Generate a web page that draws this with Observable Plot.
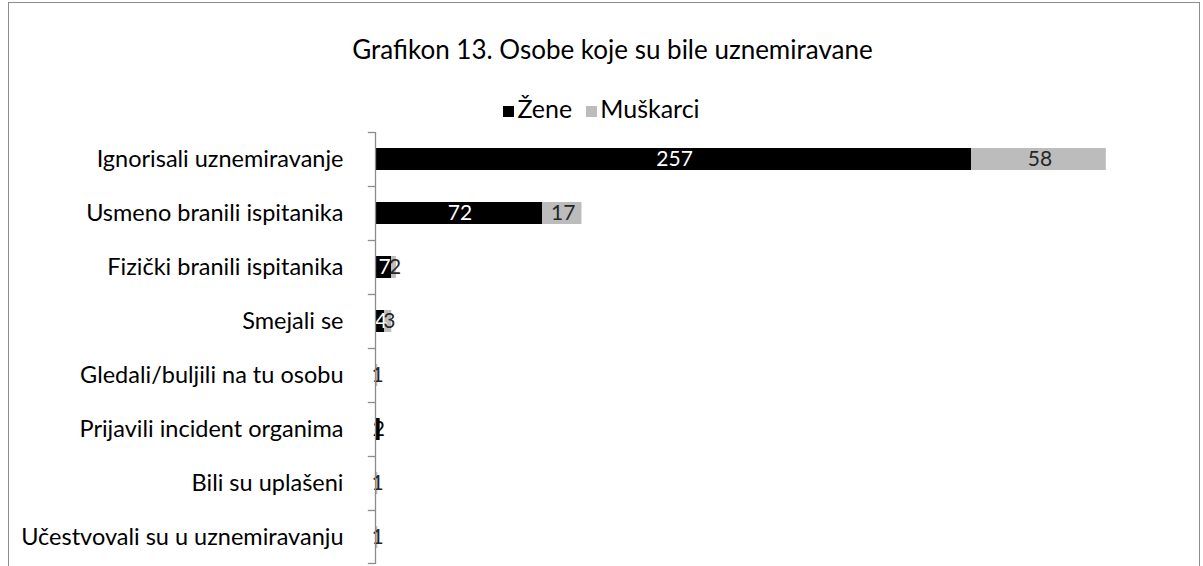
<!DOCTYPE html>
<html>
<head>
<meta charset="utf-8">
<script src="https://cdn.jsdelivr.net/npm/d3@7"></script>
<script src="https://cdn.jsdelivr.net/npm/@observablehq/plot@0.6"></script>
<style>
  html, body { margin: 0; padding: 0; background: #fff; width: 1203px; height: 566px; overflow: hidden; }
  body { position: relative; font-family: Lato, "Open Sans", sans-serif; }
  #frame { position: absolute; left: 8px; top: 2px; width: 1192px; height: 600px; border: 1px solid #8c8c8c; box-sizing: border-box; }
  #title { position: absolute; left: 0; width: 1203px; top: 33px; text-align: center; font-size: 26px; color: #000; padding-left: 22px; box-sizing: border-box; line-height: 32px; }
  #legend { position: absolute; left: 0; width: 1203px; top: 93px; text-align: center; font-size: 25px; color: #000; box-sizing: border-box; padding-left: 0px; line-height: 30px; }
  #legend span.sw { display: inline-block; width: 11px; height: 11px; margin-right: 3px; vertical-align: 1px; }
  #legend span.item { margin: 0 7px; }
  #chart { position: absolute; left: 0; top: 132px; }
</style>
</head>
<body>
<div id="frame"></div>
<div id="title">Grafikon 13. Osobe koje su bile uznemiravane</div>
<div id="legend"></div>
<div id="chart"></div>
<script>
const categories = [
  "Ignorisali uznemiravanje",
  "Usmeno branili ispitanika",
  "Fizički branili ispitanika",
  "Smejali se",
  "Gledali/buljili na tu osobu",
  "Prijavili incident organima",
  "Bili su uplašeni",
  "Učestvovali su u uznemiravanju"
];
const series = ["Žene", "Muškarci"];
const zene = [257, 72, 7, 4, 0, 2, 0, 0];
const muskarci = [58, 17, 2, 3, 1, 0, 1, 1];
const colors = ["#000000", "#bcbcbc"];

const data = [];
categories.forEach((c, i) => {
  data.push({cat: c, series: series[0], value: zene[i]});
  data.push({cat: c, series: series[1], value: muskarci[i]});
});

// legend
const leg = document.getElementById("legend");
leg.innerHTML = series.map((s, i) =>
  `<span class="item"><span class="sw" style="background:${colors[i]}"></span>${s}</span>`).join("");

const step = 54;
const chart = Plot.plot({
  width: 1203,
  height: 432,
  marginLeft: 375,
  marginRight: 16,
  marginTop: 0,
  marginBottom: 0,
  style: {fontFamily: "Lato, 'Open Sans', sans-serif", fontSize: "24px", color: "#000", background: "transparent", overflow: "visible"},
  x: {domain: [0, 350], axis: null},
  y: {domain: categories, paddingInner: 0.59, paddingOuter: 0.295, label: null},
  color: {domain: series, range: colors},
  marks: [
    Plot.barX(data, Plot.stackX({x: "value", y: "cat", fill: "series", order: series})),
    Plot.text(data.filter(d => d.value > 0), Plot.stackX({
      x: "value", y: "cat", z: "series", order: series,
      text: d => String(d.value),
      fill: d => d.series === series[0] ? (d.value >= 3 ? "#ffffff" : "#000000") : "#262626",
      dx: 1,
      fontSize: 21
    })),
    Plot.ruleX([0], {stroke: "#8c8c8c", strokeWidth: 1.3}),
    Plot.ruleY(categories, {y: d => d, x1: -3.1, x2: 0, dy: -step / 2, stroke: "#8c8c8c", strokeWidth: 1.3}),
    Plot.ruleY([categories[categories.length - 1]], {y: d => d, x1: -3.1, x2: 0, dy: step / 2 - 1, stroke: "#8c8c8c", strokeWidth: 1.3}),
    Plot.axisY({tickSize: 0, tickPadding: 32, fontSize: 23.5, fill: "#000"})
  ]
});
document.getElementById("chart").appendChild(chart);
</script>
</body>
</html>
